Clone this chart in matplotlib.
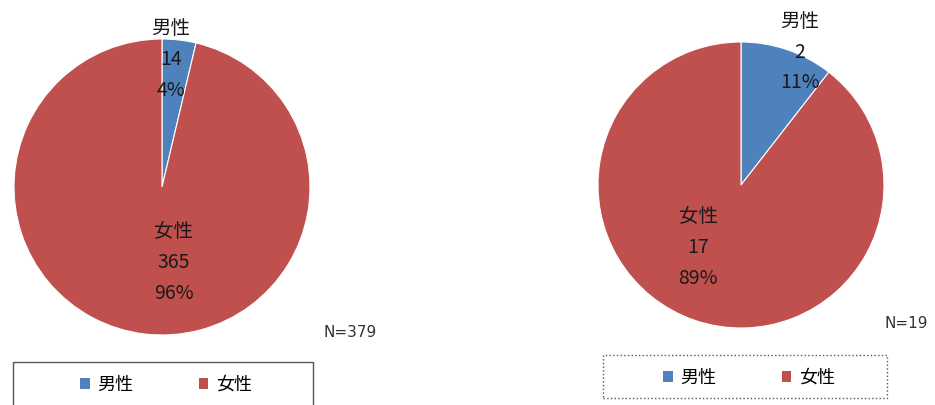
import matplotlib.pyplot as plt
from matplotlib.patches import Rectangle, Patch

plt.rcParams['font.family'] = ['Noto Sans CJK JP', 'DejaVu Sans']

# data
labels = ['男性', '女性']
counts_left = [14, 365]
pct_left = ['4%', '96%']
n_left = 379
counts_right = [2, 17]
pct_right = ['11%', '89%']
n_right = 19
colors = ['#4F81BD', '#C0504D']

fig = plt.figure(figsize=(9.35, 4.05), dpi=100)


def draw_pie(rect, counts, pcts, lab_pos, n, n_pos):
    ax = fig.add_axes(rect)
    ax.pie(counts, colors=colors, startangle=90, counterclock=False,
           wedgeprops=dict(edgecolor='white', linewidth=0.8))
    ax.set_xlim(-1, 1)
    ax.set_ylim(-1, 1)
    ax.set_aspect('auto')
    for lab, c, p, (x, y) in zip(labels, counts, pcts, lab_pos):
        ax.text(x, y, '%s\n%d\n%s' % (lab, c, p), ha='center', va='center',
                fontsize=14, linespacing=1.62, color='#1a1a1a')
    ax.text(n_pos[0], n_pos[1], 'N=%d' % n, fontsize=11, color='#333333',
            ha='left', va='center', family='DejaVu Sans')
    return ax


draw_pie([14/935, 70/405, 296/935, 296/405], counts_left, pct_left,
         [(0.06, 0.86), (0.08, -0.51)], n_left, (1.09, -0.98))
draw_pie([598/935, 77/405, 286/935, 286/405], counts_right, pct_right,
         [(0.41, 0.93), (-0.30, -0.44)], n_right, (1.00, -0.97))

# legend boxes
fig.patches.append(Rectangle((13/935, -0.02), 300/935, 43/405 + 0.02,
                             transform=fig.transFigure, fill=False,
                             edgecolor='#555555', linewidth=1.0))
fig.patches.append(Rectangle((603/935, 7/405), 284/935, 43/405,
                             transform=fig.transFigure, fill=False,
                             edgecolor='#555555', linewidth=1.0, linestyle=':'))

handles = [Patch(facecolor=c, edgecolor='none') for c in colors]
for cx, cy in [(166/935, 20/405), (749/935, 27/405)]:
    fig.legend(handles, labels, loc='center', bbox_to_anchor=(cx, cy), ncol=2,
               frameon=False, fontsize=13, handlelength=0.55, handleheight=0.55,
               handletextpad=0.4, columnspacing=3.6, borderpad=0)

fig.savefig('out.png', dpi=100)
